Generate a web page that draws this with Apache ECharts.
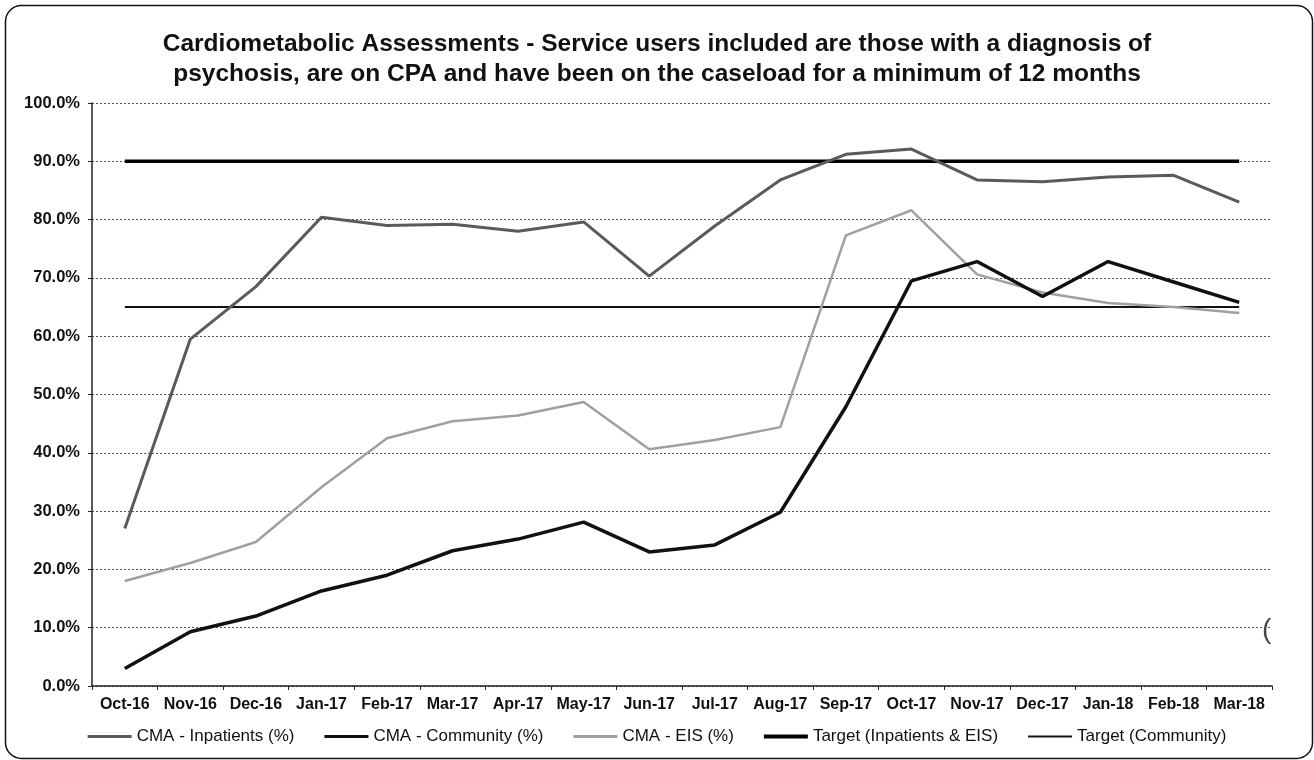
<!DOCTYPE html>
<html><head><meta charset="utf-8">
<script src="https://cdn.jsdelivr.net/npm/echarts@6/dist/echarts.min.js"></script>
<style>html,body{margin:0;padding:0;background:#fff}#c{width:1314px;height:760px}</style>
</head><body><div id="c"></div>
<script>
const categories = ['Oct-16','Nov-16','Dec-16','Jan-17','Feb-17','Mar-17','Apr-17','May-17','Jun-17','Jul-17','Aug-17','Sep-17','Oct-17','Nov-17','Dec-17','Jan-18','Feb-18','Mar-18'];
const inpatients = [27.0,59.5,68.5,80.4,79.0,79.2,78.0,79.6,70.3,78.9,86.8,91.2,92.1,86.8,86.5,87.3,87.6,83.0];
const community = [3.0,9.3,12.0,16.3,19.0,23.2,25.2,28.1,23.0,24.2,29.8,47.9,69.5,72.8,66.8,72.8,69.3,65.8];
const eis = [18.0,21.1,24.7,34.1,42.5,45.4,46.4,48.7,40.6,42.2,44.4,77.3,81.6,70.6,67.5,65.7,65.0,64.0];
const targetInpEis = [90,90,90,90,90,90,90,90,90,90,90,90,90,90,90,90,90,90];
const targetCommunity = [65,65,65,65,65,65,65,65,65,65,65,65,65,65,65,65,65,65];
const seriesNames = ['CMA - Inpatients (%)','CMA - Community (%)','CMA - EIS (%)','Target (Inpatients & EIS)','Target (Community)'];
const titleLines = ['Cardiometabolic Assessments - Service users included are those with a diagnosis of','psychosis, are on CPA and have been on the caseload for a minimum of 12 months'];

const FONT = 'Liberation Sans, Arial, sans-serif';
const chart = echarts.init(document.getElementById('c'), null, {renderer:'canvas'});
function mk(name, data, color, width, z){
  return {name, type:'line', data, symbol:'none', smooth:false, z,
    lineStyle:{color, width}, itemStyle:{color}, emphasis:{disabled:true}};
}
function bar(h){ return 'path://M0,0 L44,0 L44,' + h + ' L0,' + h + ' Z'; }
chart.setOption({
  animation:false,
  backgroundColor:'#fff',
  title:{text:titleLines.join('\n'), left:'center', top:24,
    textStyle:{fontFamily:FONT, fontSize:24.5, fontWeight:'bold', color:'#111', lineHeight:30}},
  grid:{left:92, right:42, top:103, bottom:74, containLabel:false},
  xAxis:{type:'category', data:categories, boundaryGap:true,
    axisLine:{lineStyle:{color:'#222', width:1.5}},
    axisTick:{show:true, interval:0, length:4, lineStyle:{color:'#222'}},
    axisLabel:{interval:0, margin:11, fontFamily:FONT, fontSize:16, fontWeight:'bold', color:'#111'}},
  yAxis:{type:'value', min:0, max:100, interval:10,
    axisLine:{show:true, lineStyle:{color:'#222', width:1.5}},
    axisTick:{show:true, length:4, lineStyle:{color:'#222'}},
    axisLabel:{margin:12, fontFamily:FONT, fontSize:16.5, fontWeight:'bold', color:'#111',
      formatter:v=>v.toFixed(1)+'%'},
    splitLine:{show:true, lineStyle:{color:'#555', width:1, type:[2,2]}}},
  legend:{
    data:[
      {name:seriesNames[0], icon:bar(3)},
      {name:seriesNames[1], icon:bar(3)},
      {name:seriesNames[2], icon:bar(3)},
      {name:seriesNames[3], icon:bar(4)},
      {name:seriesNames[4], icon:bar(2)}
    ],
    bottom:10, left:'center', itemWidth:44, itemHeight:10, itemGap:30,
    textStyle:{fontFamily:FONT, fontSize:17, color:'#111', fontWeight:'normal'}},
  series:[
    mk(seriesNames[0], inpatients, '#5a5a5a', 3, 5),
    mk(seriesNames[1], community, '#111111', 3.5, 6),
    mk(seriesNames[2], eis, '#a0a0a0', 2.5, 4),
    mk(seriesNames[3], targetInpEis, '#000000', 3.5, 3),
    mk(seriesNames[4], targetCommunity, '#111111', 2, 3)
  ],
  graphic:[
    {type:'rect', left:3, top:3, shape:{width:1307, height:753, r:16}, style:{fill:'none', stroke:'#111', lineWidth:1.5}, silent:true},
    {type:'text', left:1262, top:616, style:{text:'(', fontFamily:FONT, fontSize:28, fill:'#444'}, silent:true}
  ]
});
</script></body></html>
